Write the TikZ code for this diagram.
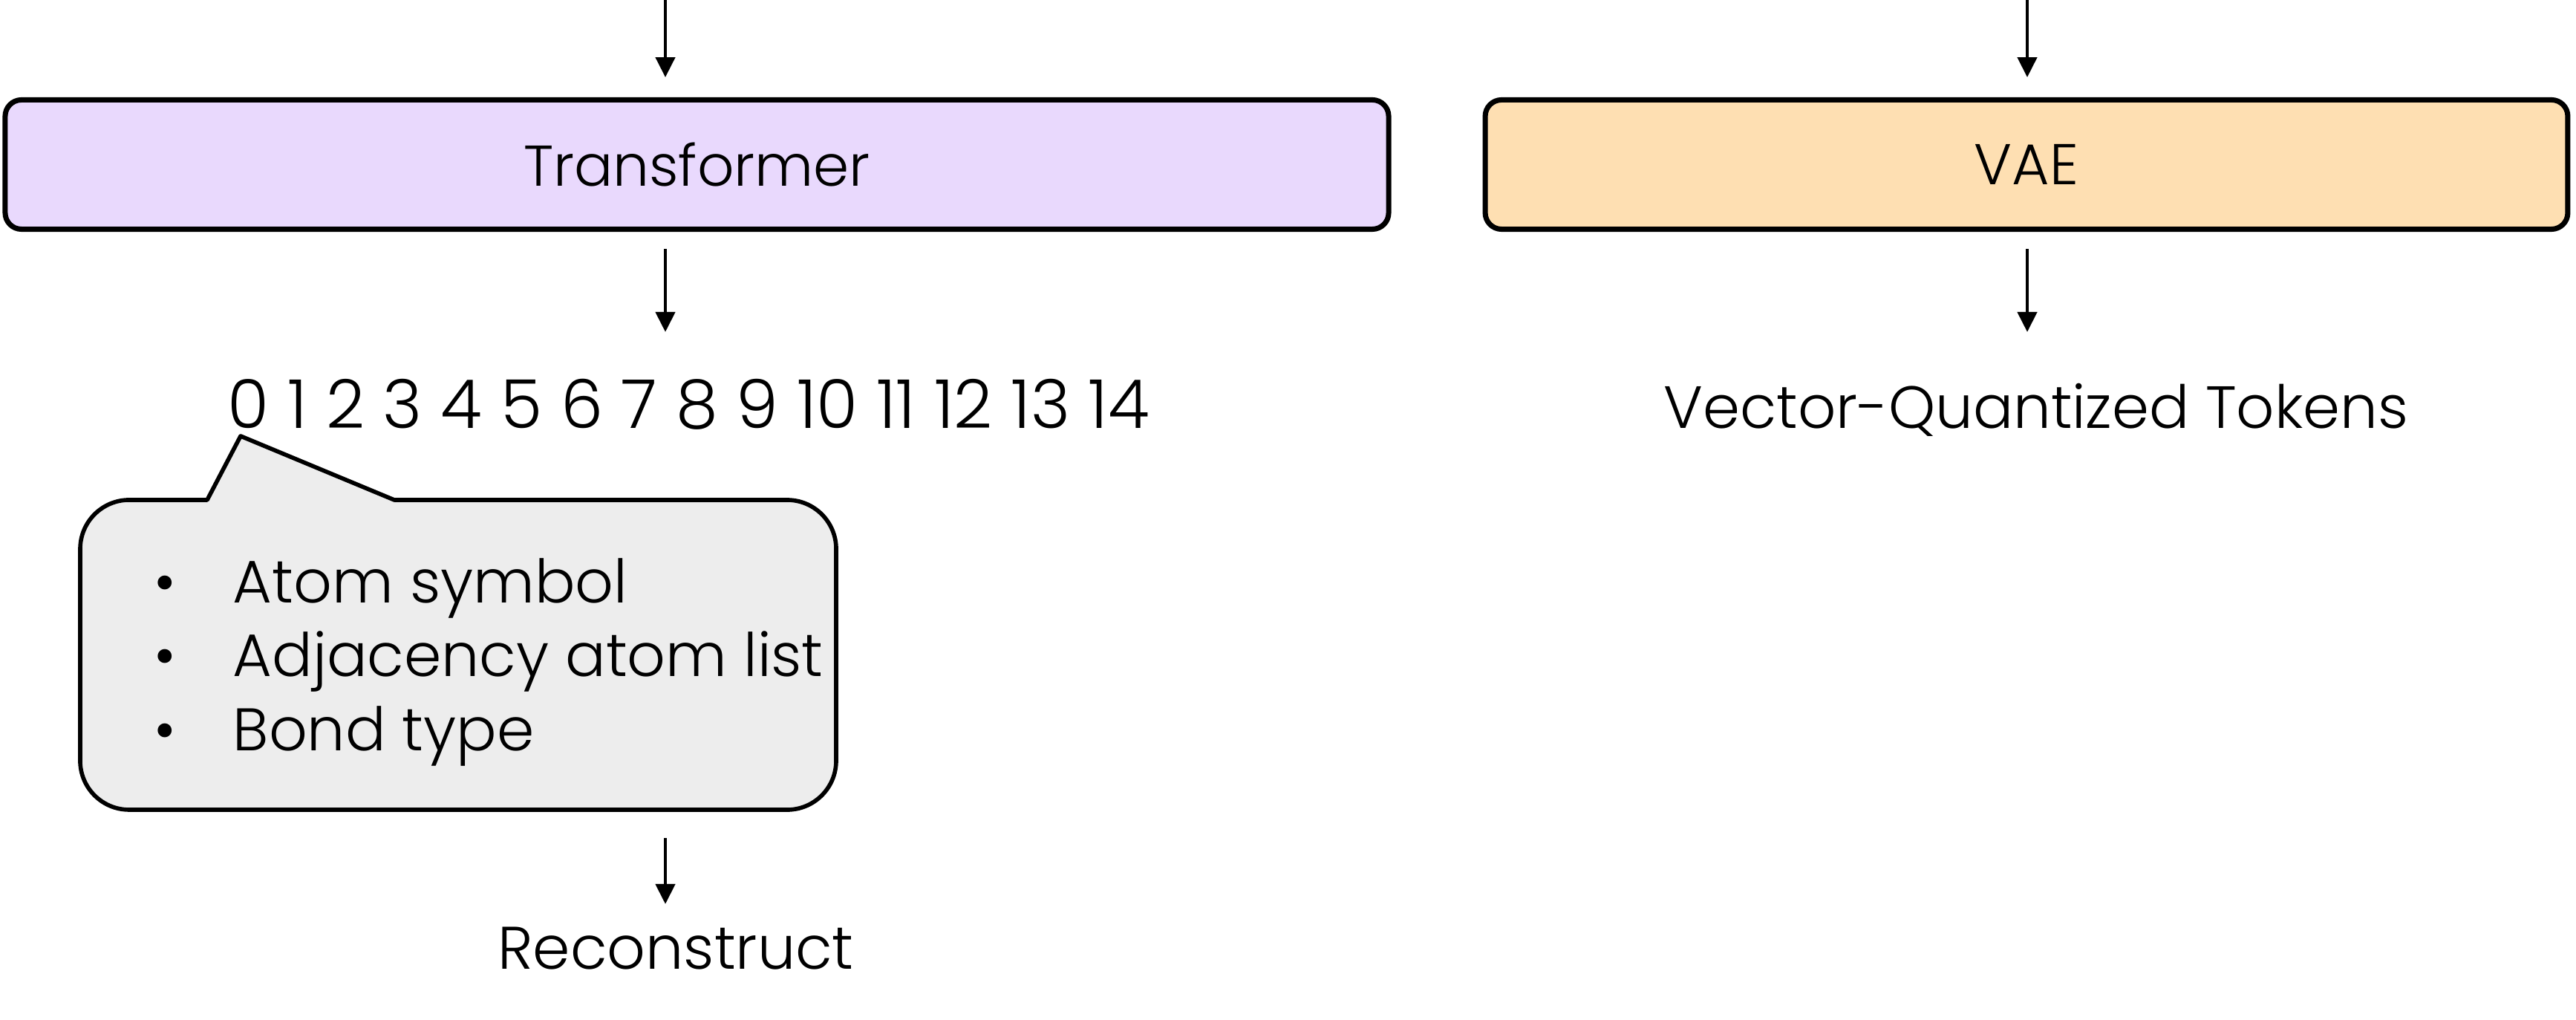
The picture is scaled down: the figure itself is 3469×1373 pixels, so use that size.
\documentclass[tikz,border=0pt]{standalone}
\usepackage{fontspec}
\setmainfont{Poppins}[UprightFont=* Light]
\usetikzlibrary{arrows.meta,calc}
\definecolor{trfill}{HTML}{E9D9FD}
\definecolor{vaefill}{HTML}{FEDFB2}
\definecolor{callfill}{HTML}{EDEDED}
\tikzset{
  blockbox/.style={draw=black, line width=2pt, rounded corners=0.22cm, minimum height=1.74cm, inner sep=0pt, font=\fontsize{22}{27}\selectfont},
  arr/.style={line width=1.3pt, -{Triangle[length=0.27cm,width=0.26cm]}},
  lbl/.style={inner sep=0pt, anchor=base, font=\fontsize{23}{28}\selectfont},
  bullettext/.style={inner sep=0pt, anchor=base west, font=\fontsize{23}{27}\selectfont},
  calloutshape/.style={draw=black, fill=callfill, line width=1.6pt, line join=round}
}
\begin{document}
\begin{tikzpicture}[x=0.01cm,y=0.01cm]
\useasboundingbox (0,0) rectangle (3469,1373);
% blocks
\node[blockbox, fill=trfill, minimum width=18.62cm] (tr) at (938.5,1151.5) {Transformer};
\node[blockbox, fill=vaefill, minimum width=14.57cm] (vae) at (2729,1151.5) {VAE};
% axis coordinates for arrows
\coordinate (ax) at (896,1373);
\coordinate (bx) at (2730,1373);
% outputs
\node[lbl, font=\fontsize{25.8}{30}\selectfont] (num) at (927.5,796) {0 1 2 3 4 5 6 7 8 9 10 11 12 13 14};
\node[lbl, font=\fontsize{22.8}{28}\selectfont] (vq) at (2742,796) {Vector-Quantized Tokens};
\node[lbl] (rec) at (910,68) {Reconstruct};
% arrows
\draw[arr] (ax) -- ([yshift=-1.04cm]ax);
\draw[arr] (bx) -- ([yshift=-1.04cm]bx);
\draw[arr] ([yshift=-0.23cm]ax |- tr.south) -- ([yshift=1.30cm]ax |- num.base);
\draw[arr] ([yshift=-0.23cm]bx |- vae.south) -- ([yshift=1.30cm]bx |- vq.base);
% callout
\draw[calloutshape] (279,700) -- (324,786) -- (531,700) -- (1060,700)
  arc[start angle=90,end angle=0,radius=0.66cm] -- (1126,349)
  arc[start angle=0,end angle=-90,radius=0.66cm] -- (174,283)
  arc[start angle=270,end angle=180,radius=0.66cm] -- (108,634)
  arc[start angle=180,end angle=90,radius=0.66cm] -- cycle;
\coordinate (callbottom) at (896,283);
\node[bullettext] (b1) at (207,561) {\makebox[1.06cm][l]{\textbullet}Atom symbol};
\node[bullettext] (b2) at (207,462) {\makebox[1.06cm][l]{\textbullet}Adjacency atom list};
\node[bullettext] (b3) at (207,362) {\makebox[1.06cm][l]{\textbullet}Bond type};
\draw[arr] ([yshift=-0.38cm]callbottom) -- ([yshift=0.88cm]ax |- rec.base);
\end{tikzpicture}
\end{document}
